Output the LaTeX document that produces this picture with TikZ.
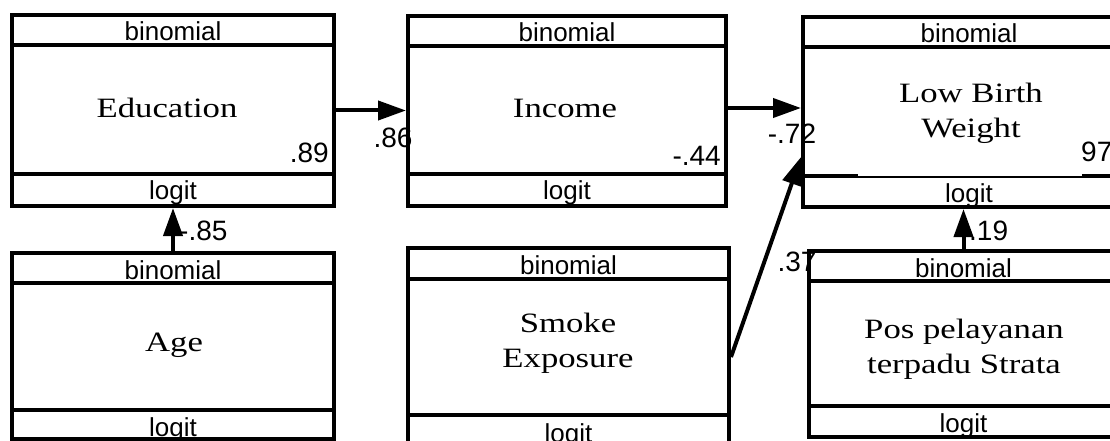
\documentclass[tikz,border=0pt]{standalone}
\usepackage{fontspec}
\setmainfont{Liberation Serif}[FakeStretch=1.24]
\setsansfont{Liberation Sans}
\usetikzlibrary{arrows.meta,calc}

\tikzset{
  varbox/.style={draw, line width=4pt, rectangle, inner sep=0pt},
  divline/.style={line width=4pt},
  vartext/.style={font=\fontsize{28}{35}\selectfont, align=center, inner sep=0pt},
  tagtext/.style={font=\sffamily\fontsize{26}{30}\selectfont, anchor=base, inner sep=0pt},
  coef/.style={font=\sffamily\fontsize{28}{32}\selectfont, inner sep=0pt},
  arrowline/.style={line width=4pt, -{Triangle[length=28pt,width=19pt]}}
}

\begin{document}
\begin{tikzpicture}[x=1pt,y=-1pt]

\useasboundingbox (0,0) rectangle (1110,441);

% variable boxes
\node[varbox, minimum width=322pt, minimum height=191pt] (edu) at (173,110.5) {};
\node[varbox, minimum width=318pt, minimum height=190pt] (inc) at (567,111) {};
\node[varbox, minimum width=332pt, minimum height=190pt] (lbw) at (969,112) {};
\node[varbox, minimum width=322pt, minimum height=186pt] (age) at (173,346) {};
\node[varbox, minimum width=321pt, minimum height=218pt] (smoke) at (568.5,357) {};
\node[varbox, minimum width=309pt, minimum height=186pt] (pos) at (963.5,344) {};

% header and footer rows
\draw[divline] (edu.west |- 0,45.5) -- (edu.east |- 0,45.5);
\draw[divline] (edu.west |- 0,174) -- (edu.east |- 0,174);
\draw[divline] (inc.west |- 0,46) -- (inc.east |- 0,46);
\draw[divline] (inc.west |- 0,174) -- (inc.east |- 0,174);
\draw[divline] (lbw.west |- 0,47) -- (lbw.east |- 0,47);
\draw[divline] (lbw.west |- 0,176) -- (858,176);
\draw[line width=2pt] (856,177) -- (1084,177);
\draw[divline] (1082,176) -- (lbw.east |- 0,176);
\draw[divline] (age.west |- 0,283) -- (age.east |- 0,283);
\draw[divline] (age.west |- 0,410) -- (age.east |- 0,410);
\draw[divline] (smoke.west |- 0,279) -- (smoke.east |- 0,279);
\draw[divline] (smoke.west |- 0,415) -- (smoke.east |- 0,415);
\draw[divline] (pos.west |- 0,281) -- (pos.east |- 0,281);
\draw[divline] (pos.west |- 0,406) -- (pos.east |- 0,406);

\node[tagtext] (eduhead) at (173,41) {binomial};
\node[tagtext] (inchead) at (567,42) {binomial};
\node[tagtext] (lbwhead) at (969,43) {binomial};
\node[tagtext] (agehead) at (173,279) {binomial};
\node[tagtext] (smokehead) at (568.5,274) {binomial};
\node[tagtext] (poshead) at (963.5,277) {binomial};

\node[tagtext] (edufoot) at (173,199) {logit};
\node[tagtext] (incfoot) at (567,199) {logit};
\node[tagtext] (lbwfoot) at (969,202) {logit};
\node[tagtext] (agefoot) at (173,436) {logit};
\node[tagtext] (smokefoot) at (568.5,442) {logit};
\node[tagtext] (posfoot) at (963.5,432) {logit};

\node[vartext] (eduname) at (167,108) {Education};
\node[vartext] (incname) at (565,108) {Income};
\node[vartext] (lbwname) at (971,113) {Low Birth\\Weight};
\node[vartext] (agename) at (174,345) {Age};
\node[vartext] (smokename) at (568,343) {Smoke\\Exposure};
\node[vartext] (posname) at (964,349) {Pos pelayanan\\terpadu Strata};

% paths
\draw[arrowline] (edu.east) -- (edu.east -| inc.west);
\draw[arrowline] ([yshift=3pt]inc.east) -- ([yshift=3pt]inc.east -| lbw.west);
\draw[arrowline] (age.north) -- (age.north |- edu.south);
\draw[arrowline] (pos.north) -- (pos.north |- lbw.south);
\draw[arrowline] (smoke.east) -- ([yshift=52pt]lbw.south west);

% coefficients
\node[coef, anchor=east] (c89) at (329,153) {.89};
\node[coef, anchor=east] (c44) at (721,156) {-.44};
\node[coef] (c86) at (393,138) {.86};
\node[coef] (c72) at (792,134) {-.72};
\node[coef] (c37) at (797,262) {.37};
\node[coef, anchor=west] (c85) at (179,231) {-.85};
\node[coef, anchor=west] (c19) at (969,231) {.19};
\node[coef, anchor=west] (c97) at (1081,152) {97};

\end{tikzpicture}
\end{document}
